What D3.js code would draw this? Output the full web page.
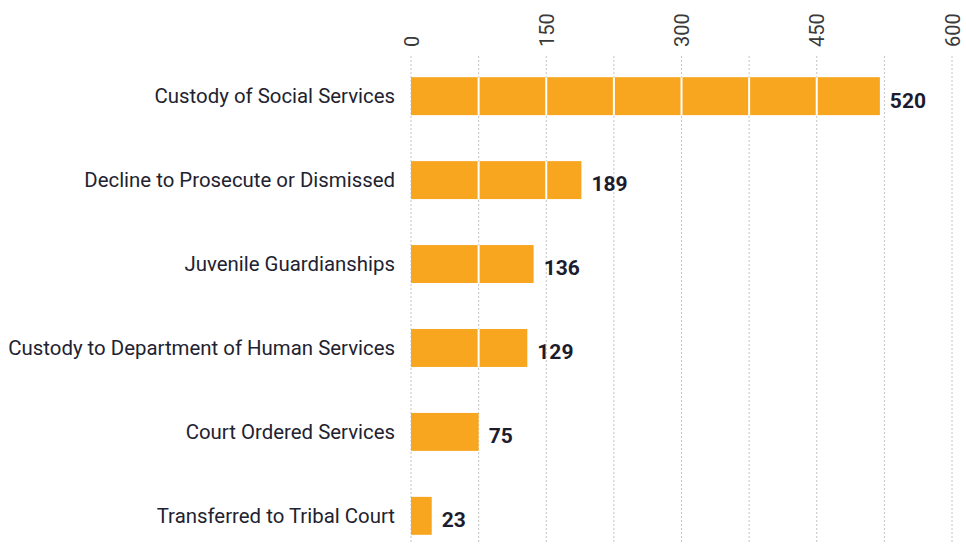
<!DOCTYPE html>
<html>
<head>
<meta charset="UTF-8">
<title>Case outcomes</title>
<script src="https://cdn.jsdelivr.net/npm/d3@7"></script>
<style>
body { margin: 0; background: #fff; }
svg text { font-family: Roboto, "Noto Sans", sans-serif; }
.cat { font-size: 20.4px; fill: #222230; }
.val { font-size: 21px; font-weight: bold; fill: #1c1c2e; }
.tick text { font-size: 20px; fill: #3a3a3a; }
.grid line { stroke: #b5b5b5; stroke-width: 0.8; stroke-dasharray: 2,2; }
.cut line { stroke: #fff; stroke-width: 2; }
</style>
</head>
<body>
<svg id="chart" width="966" height="544"></svg>
<script>
var categories = ["Custody of Social Services", "Decline to Prosecute or Dismissed", "Juvenile Guardianships",
                  "Custody to Department of Human Services", "Court Ordered Services", "Transferred to Tribal Court"];
var values = [520, 189, 136, 129, 75, 23];
var tickLabels = [0, 150, 300, 450, 600];
var gridValues = [0, 75, 150, 225, 300, 375, 450, 525, 600];

var svg = d3.select("#chart");
var width = 966, height = 544;

var x = d3.scaleLinear().domain([0, 600]).range([411, 952]);
var y = d3.scaleBand().domain(categories).range([52, 560]).paddingInner(0.548).paddingOuter(0.3);

// grid behind bars
svg.append("g").attr("class", "grid")
  .selectAll("line").data(gridValues).enter().append("line")
    .attr("x1", function(d) { return x(d); })
    .attr("x2", function(d) { return x(d); })
    .attr("y1", 56).attr("y2", height);

var rows = categories.map(function(c, i) { return {cat: c, value: values[i]}; });

svg.append("g").selectAll("rect").data(rows).enter().append("rect")
    .attr("x", x(0))
    .attr("y", function(d) { return y(d.cat); })
    .attr("width", function(d) { return x(d.value) - x(0); })
    .attr("height", y.bandwidth())
    .attr("fill", "#f8a620");

// white cuts where grid lines cross the bars
var cut = svg.append("g").attr("class", "cut");
rows.forEach(function(r) {
  cut.selectAll(null).data(gridValues.filter(function(g) { return g > 0 && g < r.value; }))
    .enter().append("line")
      .attr("x1", function(d) { return x(d); })
      .attr("x2", function(d) { return x(d); })
      .attr("y1", y(r.cat)).attr("y2", y(r.cat) + y.bandwidth());
});

svg.append("g").selectAll("text").data(rows).enter().append("text")
    .attr("class", "cat")
    .attr("x", 395)
    .attr("y", function(d) { return y(d.cat) + y.bandwidth() / 2; })
    .attr("dy", "0.35em")
    .attr("text-anchor", "end")
    .text(function(d) { return d.cat; });

svg.append("g").selectAll("text").data(rows).enter().append("text")
    .attr("class", "val")
    .attr("x", function(d) { return x(d.value) + 10; })
    .attr("y", function(d) { return y(d.cat) + y.bandwidth() / 2 + 4; })
    .attr("dy", "0.35em")
    .text(function(d) { return d.value; });

// top axis, labels turned on their side
var axis = d3.axisTop(x).tickValues(tickLabels).tickSize(0).tickPadding(0);
var ax = svg.append("g").attr("transform", "translate(0,47)").call(axis);
ax.select(".domain").remove();
ax.selectAll(".tick text")
    .attr("transform", "rotate(-90)")
    .attr("text-anchor", "start")
    .attr("x", 0).attr("y", 0).attr("dy", "0.35em");
</script>
</body>
</html>
